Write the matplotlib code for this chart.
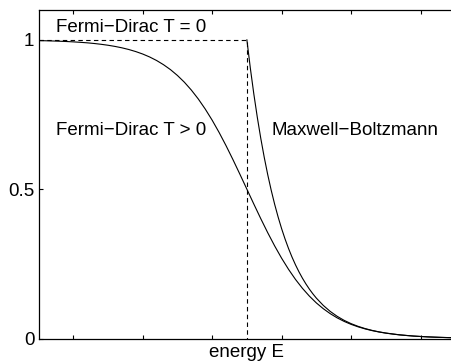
import matplotlib
matplotlib.use('Agg')
import matplotlib.pyplot as plt

plt.rcParams['font.family'] = ['Liberation Sans', 'DejaVu Sans']

# energy grid (Fermi level at E = 3) and occupation values
energy_fd = [0.0, 0.1, 0.2, 0.3, 0.4, 0.5, 0.6, 0.7, 0.8, 0.9,
             1.0, 1.1, 1.2, 1.3, 1.4, 1.5, 1.6, 1.7, 1.8, 1.9,
             2.0, 2.1, 2.2, 2.3, 2.4, 2.5, 2.6, 2.7, 2.8, 2.9,
             3.0, 3.1, 3.2, 3.3, 3.4, 3.5, 3.6, 3.7, 3.8, 3.9,
             4.0, 4.1, 4.2, 4.3, 4.4, 4.5, 4.6, 4.7, 4.8, 4.9,
             5.0, 5.1, 5.2, 5.3, 5.4, 5.5, 5.6, 5.7, 5.8, 5.9, 6.0]
fermi_dirac = [0.9975, 0.9970, 0.9963, 0.9955, 0.9945, 0.9933, 0.9918, 0.9901, 0.9879, 0.9852,
               0.9820, 0.9781, 0.9734, 0.9677, 0.9608, 0.9526, 0.9427, 0.9309, 0.9168, 0.9003,
               0.8808, 0.8582, 0.8320, 0.8022, 0.7685, 0.7311, 0.6900, 0.6457, 0.5987, 0.5498,
               0.5000, 0.4502, 0.4013, 0.3543, 0.3100, 0.2689, 0.2315, 0.1978, 0.1680, 0.1419,
               0.1192, 0.0998, 0.0832, 0.0691, 0.0573, 0.0474, 0.0392, 0.0323, 0.0266, 0.0219,
               0.0180, 0.0148, 0.0121, 0.0100, 0.0082, 0.0067, 0.0055, 0.0045, 0.0037, 0.0030, 0.0025]

energy_mb = [3.0, 3.05, 3.1, 3.15, 3.2, 3.25, 3.3, 3.35, 3.4, 3.45,
             3.5, 3.55, 3.6, 3.65, 3.7, 3.75, 3.8, 3.85, 3.9, 3.95,
             4.0, 4.1, 4.2, 4.3, 4.4, 4.5, 4.6, 4.7, 4.8, 4.9,
             5.0, 5.2, 5.4, 5.6, 5.8, 6.0]
maxwell = [1.0, 0.9048, 0.8187, 0.7408, 0.6703, 0.6065, 0.5488, 0.4966, 0.4493, 0.4066,
           0.3679, 0.3329, 0.3012, 0.2725, 0.2466, 0.2231, 0.2019, 0.1827, 0.1653, 0.1496,
           0.1353, 0.1108, 0.0907, 0.0743, 0.0608, 0.0498, 0.0408, 0.0334, 0.0273, 0.0224,
           0.0183, 0.0123, 0.0082, 0.0055, 0.0037, 0.0025]

energy_t0 = [0.0, 3.0, 3.0]
step_t0 = [1.0, 1.0, 0.0]

fig = plt.figure(figsize=(4.52, 3.61), dpi=100)
ax = fig.add_axes([0.0852, 0.0623, 0.922, 0.91])

ax.plot(energy_t0, step_t0, 'k--', lw=0.8, dashes=(4, 3))
ax.plot(energy_fd, fermi_dirac, 'k-', lw=0.8)
ax.plot(energy_mb, maxwell, 'k-', lw=0.8)

ax.set_xlim(0, 6)
ax.set_ylim(0, 1.1)
ax.set_xticks([0.5, 1.5, 2.5, 3.5, 4.5, 5.5])
ax.set_xticklabels([])
ax.set_yticks([0, 0.5, 1])
ax.set_yticklabels(['0', '0.5', '1'])
ax.tick_params(direction='in', top=True, right=True, length=3, width=0.8,
               labelsize=13.5, pad=3)
for s in ax.spines.values():
    s.set_linewidth(0.9)

ax.set_xlabel('energy E', fontsize=13.5, labelpad=1)

ax.text(0.25, 1.042, 'Fermi\u2212Dirac T = 0', fontsize=13.5, va='center')
ax.text(0.25, 0.697, 'Fermi\u2212Dirac T > 0', fontsize=13.5, va='center')
ax.text(3.355, 0.697, 'Maxwell\u2212Boltzmann', fontsize=13.5, va='center')

fig.savefig('out.png', dpi=100)
